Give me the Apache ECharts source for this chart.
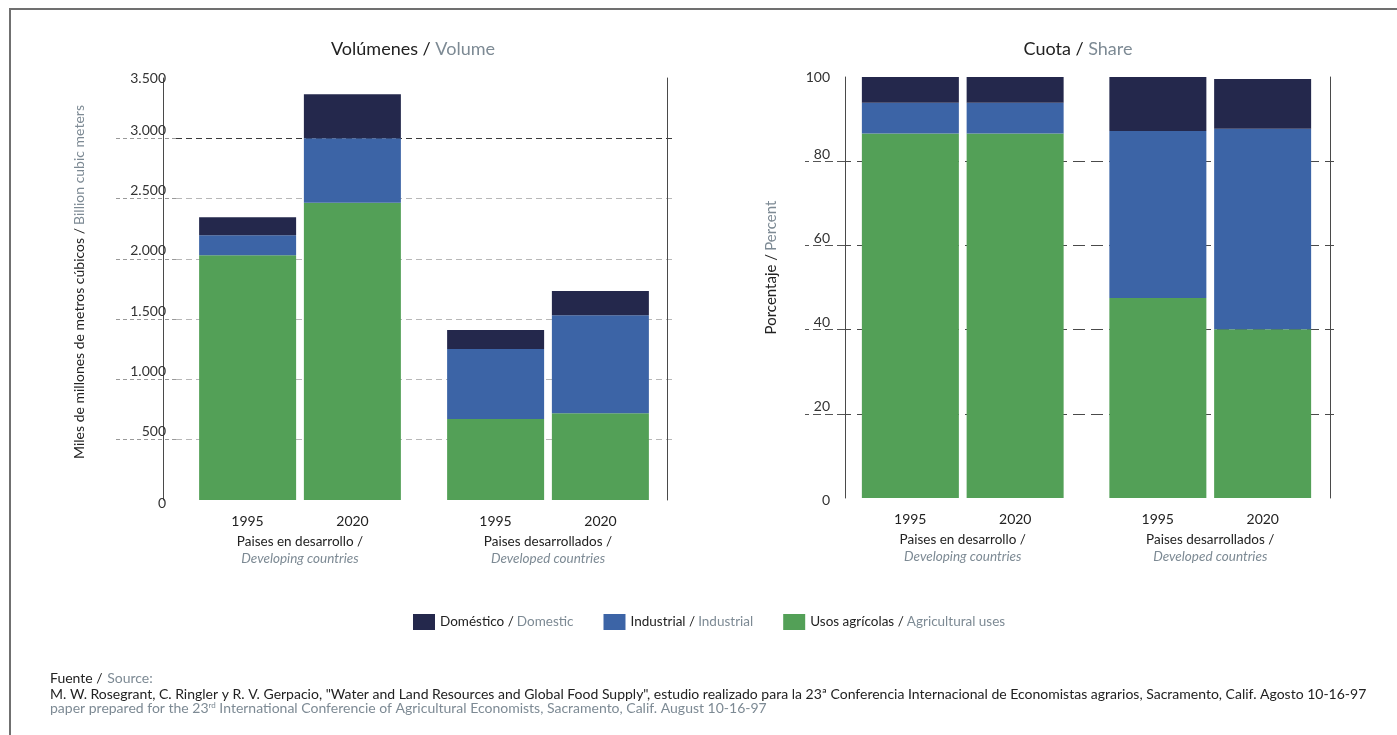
<!DOCTYPE html>
<html><head><meta charset="utf-8">
<script src="https://cdn.jsdelivr.net/npm/echarts@6/dist/echarts.min.js"></script>
<style>
html,body{margin:0;padding:0;background:#fff}
#c{width:1397px;height:735px;position:absolute;left:0;top:0}
#frame{position:absolute;left:9px;top:8px;width:1388px;height:727px;border-left:2px solid #707070;border-top:2px solid #707070;pointer-events:none}
</style>
</head><body>
<div id="c"></div><div id="frame"></div>
<script>
// ---- data ----
const years = ['1995', '2020'];
const groupEs = ['Paises en desarrollo /', 'Paises desarrollados /'];
const groupEn = ['Developing countries', 'Developed countries'];
const seriesEs = ['Doméstico', 'Industrial', 'Usos agrícolas'];
const seriesEn = ['Domestic', 'Industrial', 'Agricultural uses'];

// Volumes (billion m3): [developing, developed]
const volAgri1995 = [2030, 672];
const volInd1995  = [166, 580];
const volDom1995  = [149, 158];
const volAgri2020 = [2465, 719];
const volInd2020  = [535, 813];
const volDom2020  = [365, 201];

// Share (%): [developing, developed]
const shareAgri1995 = [86.6, 47.5];
const shareInd1995  = [7.3, 39.7];
const shareDom1995  = [6.1, 12.8];
const shareAgri2020 = [86.6, 40.1];
const shareInd2020  = [7.3, 47.6];
const shareDom2020  = [6.1, 11.8];

const volTicks = [0, 500, 1000, 1500, 2000, 2500, 3000, 3500];
const shareTicks = [0, 20, 40, 60, 80, 100];

// ---- styles ----
const FONT = 'Lato';
const DARK = '#222';
const GREY = '#7d8a94';
const C_DOM = '#24284c';
const C_IND = '#3c64a6';
const C_AGR = '#53a057';

function fmtThousands(v) {
  return String(v).replace(/\B(?=(\d{3})+(?!\d))/g, '.');
}
function tx(size, color, extra) {
  return Object.assign({fontSize: size, color, fontFamily: FONT, fontWeight: 'normal'}, extra || {});
}

const chart = echarts.init(document.getElementById('c'), null, {renderer: 'canvas'});

const xLabel = {
  margin: 10,
  fontFamily: FONT,
  formatter: (val, idx) => `{y|${years[0]}}{y|${years[1]}}\n{es|${groupEs[idx]}}\n{en|${groupEn[idx]}}`,
  rich: {
    y: tx(14, DARK, {width: 105, align: 'center', lineHeight: 22}),
    es: tx(13.5, DARK, {lineHeight: 19}),
    en: tx(13.5, GREY, {fontStyle: 'italic', lineHeight: 16})
  }
};

function makeSeries(name, color, stack, data, xi, yi) {
  return {
    type: 'bar', name, stack, data,
    xAxisIndex: xi, yAxisIndex: yi,
    barWidth: 97, barGap: '8%',
    itemStyle: {color},
    silent: true
  };
}

const lineOnlyAxis = (gridIndex, position, max, offset) => ({
  type: 'value', gridIndex, position, min: 0, max, offset,
  axisLine: {show: true, lineStyle: {color: '#4a4a4a', width: 1}},
  axisTick: {show: false}, axisLabel: {show: false}, splitLine: {show: false}
});

const option = {
  animation: false,
  backgroundColor: '#fff',
  textStyle: {fontFamily: FONT},
  title: [
    {
      text: '{k|Volúmenes /} {g|Volume}', left: 408, top: 35, textAlign: 'center',
      textStyle: {fontWeight: 'normal', rich: {k: tx(18, DARK), g: tx(18, GREY)}}
    },
    {
      text: '{k|Cuota /} {g|Share}', left: 1073, top: 35, textAlign: 'center',
      textStyle: {fontWeight: 'normal', rich: {k: tx(18, DARK), g: tx(18, GREY)}}
    },
    {
      text: '{k|Fuente /} {g|Source:}\n' +
            '{k|M. W. Rosegrant, C. Ringler y R. V. Gerpacio, "Water and Land Resources and Global Food Supply", estudio realizado para la 23ª Conferencia Internacional de Economistas agrarios, Sacramento, Calif. Agosto 10-16-97}\n' +
            '{g|paper prepared for the 23}{sup|rd}{g| International Conferencie of Agricultural Economists, Sacramento, Calif. August 10-16-97}',
      left: 50, top: 669, padding: 0,
      textStyle: {fontWeight: 'normal', rich: {
        k: tx(14, DARK, {lineHeight: 14}),
        g: tx(14, GREY, {lineHeight: 14}),
        sup: tx(8, GREY, {lineHeight: 10, verticalAlign: 'top'})
      }}
    }
  ],
  legend: {
    left: 413, top: 614, padding: 0,
    itemWidth: 22, itemHeight: 16, itemGap: 30, icon: 'rect',
    data: seriesEs,
    formatter: name => `{k|${name} /} {g|${seriesEn[seriesEs.indexOf(name)]}}`,
    textStyle: {rich: {k: tx(13.5, DARK), g: tx(13.5, GREY)}},
    selectedMode: false
  },
  grid: [
    {left: 176, right: 1397 - 672, top: 78, bottom: 235, containLabel: false},
    {left: 839, right: 1397 - 1334, top: 77, bottom: 237, containLabel: false}
  ],
  xAxis: [
    {type: 'category', gridIndex: 0, data: groupEs, axisLine: {show: false}, axisTick: {show: false}, axisLabel: xLabel},
    {type: 'category', gridIndex: 1, data: groupEs, axisLine: {show: false}, axisTick: {show: false}, axisLabel: xLabel}
  ],
  yAxis: [
    { // 0: left chart main
      type: 'value', gridIndex: 0, position: 'left', min: 0, max: 3500, interval: 500,
      axisLine: {show: false},
      axisTick: {show: true, length: 61, customValues: volTicks.slice(1, -1),
                 lineStyle: {color: '#9a9a9a', type: [4, 3], width: 1}},
      axisLabel: {
        margin: 10, fontSize: 14, color: '#333', fontFamily: FONT,
        customValues: volTicks,
        formatter: v => {
          const s = fmtThousands(v);
          if (v === volTicks[0]) return `{z|${s}}`;
          if (v === volTicks[volTicks.length - 1]) return `{t|${s}}`;
          return `{m|${s}}`;
        },
        rich: {m: {padding: [0, 0, 16, 0]}, z: {padding: [6, 0, 0, 0]}, t: {}}
      },
      // split lines follow the tick values 500..3000
      splitLine: {show: true, lineStyle: {
        color: ['#b8b8b8', '#b8b8b8', '#b8b8b8', '#b8b8b8', '#b8b8b8', '#3a3a3a'],
        type: [6, 4], width: 1}},
      name: '{k|Miles de millones de metros cúbicos /} {g|Billion cubic meters}',
      nameLocation: 'middle', nameGap: 90, nameRotate: 90,
      nameTextStyle: {padding: [0, 0, 0, 14], rich: {k: tx(14, DARK), g: tx(14, GREY)}}
    },
    lineOnlyAxis(0, 'left', 3500, 13),   // 1: left chart axis line
    lineOnlyAxis(0, 'right', 3500, -5),  // 2: left chart right line
    { // 3: right chart main
      type: 'value', gridIndex: 1, position: 'left', min: 0, max: 100, interval: 20, offset: -6,
      axisLine: {show: true, lineStyle: {color: '#4a4a4a', width: 1}},
      axisTick: {show: true, length: 40, customValues: shareTicks.slice(1, -1),
                 lineStyle: {color: '#555', type: [8, 4], width: 1}},
      axisLabel: {
        margin: 15, fontSize: 14, color: '#333', fontFamily: FONT,
        customValues: shareTicks,
        formatter: v => {
          if (v === shareTicks[0]) return `{z|${v}}`;
          if (v === shareTicks[shareTicks.length - 1]) return `{t|${v}}`;
          return `{m|${v}}`;
        },
        rich: {m: {padding: [0, 0, 14, 0]}, z: {padding: [4, 0, 0, 0]}, t: {}}
      },
      splitLine: {show: true, lineStyle: {color: '#4a4a4a', type: [12, 6], width: 1}},
      name: '{k|Porcentaje /} {g|Percent}',
      nameLocation: 'middle', nameGap: 66, nameRotate: 90,
      nameTextStyle: {padding: [0, 0, 0, 40], rich: {k: tx(15, DARK), g: tx(15, GREY)}}
    },
    lineOnlyAxis(1, 'right', 100, -4)     // 4: right chart right line
  ],
  series: [
    makeSeries(seriesEs[2], C_AGR, 'v1995', volAgri1995, 0, 0),
    makeSeries(seriesEs[1], C_IND, 'v1995', volInd1995, 0, 0),
    makeSeries(seriesEs[0], C_DOM, 'v1995', volDom1995, 0, 0),
    makeSeries(seriesEs[2], C_AGR, 'v2020', volAgri2020, 0, 0),
    makeSeries(seriesEs[1], C_IND, 'v2020', volInd2020, 0, 0),
    makeSeries(seriesEs[0], C_DOM, 'v2020', volDom2020, 0, 0),
    makeSeries(seriesEs[2], C_AGR, 's1995', shareAgri1995, 1, 3),
    makeSeries(seriesEs[1], C_IND, 's1995', shareInd1995, 1, 3),
    makeSeries(seriesEs[0], C_DOM, 's1995', shareDom1995, 1, 3),
    makeSeries(seriesEs[2], C_AGR, 's2020', shareAgri2020, 1, 3),
    makeSeries(seriesEs[1], C_IND, 's2020', shareInd2020, 1, 3),
    makeSeries(seriesEs[0], C_DOM, 's2020', shareDom2020, 1, 3)
  ]
};
chart.setOption(option);
</script>
</body></html>
